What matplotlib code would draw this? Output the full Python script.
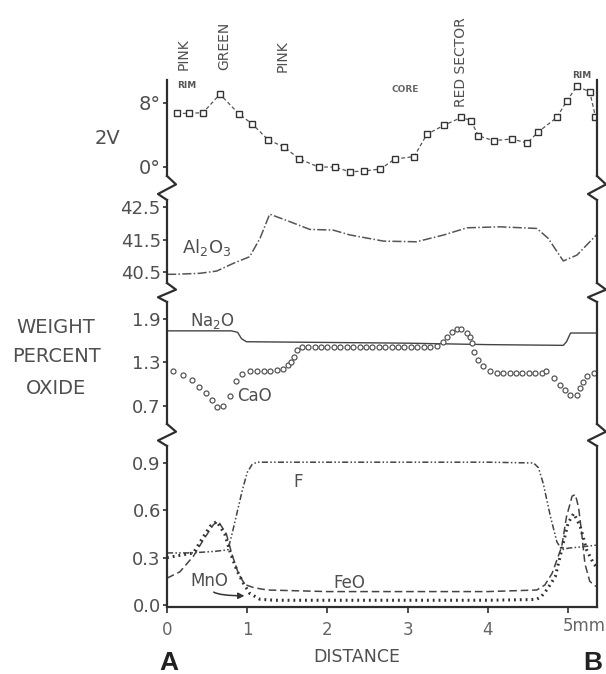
import matplotlib
matplotlib.use("Agg")
import matplotlib.pyplot as plt
from matplotlib.lines import Line2D

# ---------------- data ----------------
# 2V optic angle (degrees) vs distance (mm)
v2_x = [0.12, 0.28, 0.45, 0.66, 0.90, 1.06, 1.26, 1.46, 1.65, 1.89, 2.09, 2.28, 2.46, 2.66,
        2.84, 3.08, 3.24, 3.45, 3.67, 3.79, 3.88, 4.07, 4.30, 4.49, 4.63, 4.86, 4.98, 5.11,
        5.27, 5.34]
v2_deg = [6.7, 6.7, 6.8, 9.1, 6.6, 5.4, 3.4, 2.5, 1.0, 0.0, 0.0, -0.6, -0.5, -0.25,
          1.0, 1.3, 4.1, 5.2, 6.2, 5.8, 3.9, 3.3, 3.5, 3.0, 4.4, 6.2, 8.2, 10.1,
          9.4, 6.3]

# Al2O3 weight percent
al_x = [0.0, 0.10, 0.41, 0.62, 0.83, 1.03, 1.16, 1.28, 1.53, 1.78, 2.07, 2.28, 2.70, 3.11,
        3.45, 3.74, 4.15, 4.61, 4.75, 4.94, 5.11, 5.36]
al_wt = [40.43, 40.43, 40.46, 40.53, 40.77, 40.97, 41.54, 42.28, 42.05, 41.81, 41.79, 41.64,
         41.45, 41.43, 41.64, 41.86, 41.89, 41.84, 41.54, 40.84, 41.02, 41.66]

# Na2O weight percent
na_x = [0.0, 0.80, 0.88, 0.93, 0.99, 2.0, 3.0, 4.0, 4.94, 4.98, 5.03, 5.36]
na_wt = [1.73, 1.73, 1.71, 1.62, 1.58, 1.57, 1.56, 1.54, 1.53, 1.58, 1.70, 1.70]

# CaO weight percent (individual analyses)
ca_x = [0.08, 0.20, 0.31, 0.40, 0.49, 0.56, 0.62, 0.70, 0.78, 0.86, 0.93, 1.03, 1.12, 1.21,
        1.28, 1.37, 1.45, 1.51, 1.55, 1.58, 1.62,
        1.68, 1.76, 1.84, 1.92, 2.00, 2.08, 2.16, 2.24, 2.32, 2.40, 2.48, 2.56, 2.64, 2.72,
        2.80, 2.88, 2.96, 3.04, 3.12, 3.20, 3.28,
        3.36, 3.44, 3.49, 3.55, 3.61, 3.67, 3.74, 3.78, 3.80, 3.83, 3.88, 3.94, 4.03, 4.11,
        4.19, 4.27, 4.35, 4.43, 4.51, 4.59, 4.67,
        4.73, 4.82, 4.90, 4.96, 5.02, 5.11, 5.15, 5.19, 5.24, 5.32]
ca_wt = [1.18, 1.12, 1.05, 0.95, 0.87, 0.78, 0.68, 0.69, 0.83, 1.04, 1.14, 1.18, 1.18, 1.18,
         1.18, 1.19, 1.21, 1.26, 1.30, 1.37, 1.47,
         1.51, 1.51, 1.51, 1.51, 1.51, 1.51, 1.51, 1.51, 1.51, 1.51, 1.51, 1.51, 1.51, 1.51,
         1.51, 1.51, 1.51, 1.51, 1.51, 1.51, 1.51,
         1.52, 1.57, 1.65, 1.72, 1.76, 1.76, 1.70, 1.65, 1.56, 1.44, 1.33, 1.24, 1.17, 1.15,
         1.15, 1.15, 1.15, 1.15, 1.15, 1.15, 1.15,
         1.17, 1.08, 0.98, 0.91, 0.85, 0.85, 0.94, 1.03, 1.11, 1.15]

# F weight percent
f_x = [0.0, 0.30, 0.60, 0.76, 0.82, 0.88, 0.94, 1.00, 1.06, 1.12, 2.0, 3.0, 4.0, 4.57,
       4.63, 4.69, 4.78, 4.86, 4.92, 5.00, 5.20, 5.36]
f_wt = [0.33, 0.33, 0.34, 0.35, 0.47, 0.60, 0.73, 0.84, 0.89, 0.905, 0.905, 0.905, 0.905,
        0.90, 0.87, 0.77, 0.56, 0.40, 0.35, 0.36, 0.37, 0.38]

# MnO weight percent
mn_x = [0.0, 0.33, 0.45, 0.54, 0.62, 0.72, 0.79, 0.87, 0.95, 1.03, 1.16, 1.35, 2.0, 3.0,
        4.0, 4.60, 4.66, 4.74, 4.84, 4.92, 5.00, 5.07, 5.15, 5.23, 5.32, 5.36]
mn_wt = [0.30, 0.33, 0.43, 0.50, 0.53, 0.45, 0.33, 0.22, 0.14, 0.074, 0.036, 0.03, 0.03, 0.03,
         0.03, 0.035, 0.05, 0.10, 0.18, 0.35, 0.52, 0.58, 0.50, 0.35, 0.26, 0.24]

# FeO weight percent
fe_x = [0.0, 0.16, 0.33, 0.45, 0.58, 0.64, 0.74, 0.81, 0.89, 0.97, 1.08, 1.25, 2.0, 3.0,
        4.0, 4.61, 4.71, 4.80, 4.86, 4.92, 4.98, 5.05, 5.09, 5.13, 5.17, 5.21, 5.27, 5.34, 5.36]
fe_wt = [0.17, 0.21, 0.31, 0.41, 0.51, 0.53, 0.45, 0.32, 0.20, 0.13, 0.11, 0.095, 0.085, 0.085,
         0.085, 0.095, 0.127, 0.20, 0.285, 0.37, 0.56, 0.69, 0.70, 0.62, 0.45, 0.26, 0.15, 0.12, 0.12]

v2_ticks = [0, 8]
v2_ticklabels = ["0°", "8°"]
al_ticks = [40.5, 41.5, 42.5]
al_ticklabels = ["40.5", "41.5", "42.5"]
mid_ticks = [0.7, 1.3, 1.9]
mid_ticklabels = ["0.7", "1.3", "1.9"]
low_ticks = [0.0, 0.3, 0.6, 0.9]
low_ticklabels = ["0.0", "0.3", "0.6", "0.9"]
x_ticks = [0, 1, 2, 3, 4, 5]
x_ticklabels = ["0", "1", "2", "3", "4", ""]

# ---------------- layout ----------------
W, H = 606, 674
fig = plt.figure(figsize=(W / 100, H / 100), dpi=100)
plt.rcParams['font.family'] = ['DejaVu Sans']

INK = "#2e2e2e"
TXT = "#4f4f4f"
LX, RX = 167, 597
XMAX = 5.36


def fx(px):
    return px / W


def fy(py):
    return 1 - py / H


def make_ax(top, bottom, ylim):
    ax = fig.add_axes([fx(LX), fy(bottom), fx(RX) - fx(LX), (bottom - top) / H])
    ax.set_xlim(0, XMAX)
    ax.set_ylim(*ylim)
    ax.patch.set_alpha(0)
    for s in ("top", "bottom"):
        ax.spines[s].set_visible(False)
    for s in ("left", "right"):
        ax.spines[s].set_linewidth(1.6)
        ax.spines[s].set_color(INK)
    ax.set_xticks([])
    ax.tick_params(axis="y", direction="out", length=3, width=1.2, color=INK,
                   labelsize=13, labelcolor=TXT, pad=1.5)
    return ax


P = [(80, 176), (200, 283), (302, 424), (446, 607)]
ax1 = make_ax(*P[0], (-1.125, 10.875))
ax2 = make_ax(*P[1], (40.162, 42.715))
ax3 = make_ax(*P[2], (0.445, 2.128))
ax4 = make_ax(*P[3], (-0.0127, 1.0076))

# breaks (zigzags) between panels
for (t1, b1), (t2, b2) in zip(P[:-1], P[1:]):
    g = t2 - b1
    for x0 in (LX, RX):
        xs = [x0, x0 + 9, x0 - 9, x0]
        ys = [b1, b1 + 0.35 * g, b1 + 0.75 * g, t2]
        fig.add_artist(Line2D([fx(v) for v in xs], [fy(v) for v in ys],
                              color=INK, lw=1.6, transform=fig.transFigure))

# ---- panel 1: 2V
ax1.plot(v2_x, v2_deg, color="#555555", lw=0.9, ls=(0, (3, 2)),
         marker="s", ms=4.5, mfc="white", mec="#333333", mew=1.0)
ax1.set_yticks(v2_ticks)
ax1.set_yticklabels(v2_ticklabels, fontsize=14)

# ---- panel 2: Al2O3
ax2.plot(al_x, al_wt, color="#555555", lw=1.1, ls=(0, (6, 1.5, 1, 1.5)))
ax2.set_yticks(al_ticks)
ax2.set_yticklabels(al_ticklabels)
ax2.text(0.19, 41.26, r"Al$_2$O$_3$", fontsize=13, color=TXT, va="center", ha="left")

# ---- panel 3: Na2O, CaO
ax3.plot(na_x, na_wt, color="#444444", lw=1.0)
ax3.plot(ca_x, ca_wt, ls="none", marker="o", ms=3.6, mfc="white", mec="#555555", mew=0.9)
ax3.set_yticks(mid_ticks)
ax3.set_yticklabels(mid_ticklabels)
ax3.text(0.29, 1.87, r"Na$_2$O", fontsize=12, color=TXT, va="center", ha="left")
ax3.text(0.87, 0.83, "CaO", fontsize=12, color=TXT, va="center", ha="left")

# ---- panel 4: F, MnO, FeO
ax4.plot(f_x, f_wt, color="#444444", lw=1.1, ls=(0, (4, 1.5, 1, 1.5, 1, 1.5)))
ax4.plot(fe_x, fe_wt, color="#444444", lw=1.1, ls=(0, (5, 2.5)))
ax4.plot(mn_x, mn_wt, color="#333333", lw=2.2, ls=(0, (0.6, 1.3)))
ax4.set_yticks(low_ticks)
ax4.set_yticklabels(low_ticklabels)
ax4.spines["bottom"].set_visible(True)
ax4.spines["bottom"].set_linewidth(1.6)
ax4.spines["bottom"].set_color(INK)
ax4.set_xticks(x_ticks)
ax4.set_xticklabels(x_ticklabels)
ax4.tick_params(axis="x", direction="out", length=4, width=1.2, color=INK,
                labelsize=12, labelcolor="#666666", pad=6)
ax4.text(1.63, 0.78, "F", fontsize=12, color=TXT, ha="center", va="center")
ax4.text(2.27, 0.14, "FeO", fontsize=12, color=TXT, ha="center", va="center")
ax4.text(0.53, 0.15, "MnO", fontsize=12, color=TXT, ha="center", va="center")
ax4.annotate("", xy=(1.0, 0.058), xytext=(0.56, 0.095),
             arrowprops=dict(arrowstyle="-|>", color="#333333", lw=1.1,
                             mutation_scale=9,
                             connectionstyle="angle3,angleA=-80,angleB=0"))
ax4.text(4.93, -0.135, "5mm", fontsize=12, color="#666666", ha="left", va="center")

# ---------------- annotations around the figure ----------------
for lab, xp, yp in [("PINK", 184, 70), ("GREEN", 224, 70), ("PINK", 283, 72),
                    ("RED SECTOR", 461, 107)]:
    fig.text(fx(xp), fy(yp), lab, rotation=90, ha="center", va="bottom",
             fontsize=10, color=TXT)
fig.text(fx(187), fy(86), "RIM", fontsize=6.5, fontweight="bold", color="#555555",
         ha="center", va="center")
fig.text(fx(405), fy(90), "CORE", fontsize=6.5, fontweight="bold", color="#666666",
         ha="center", va="center")
fig.text(fx(582), fy(76), "RIM", fontsize=6.5, fontweight="bold", color="#555555",
         ha="center", va="center")

fig.text(fx(108), fy(138), "2V", fontsize=14, color=TXT, ha="center", va="center")
for lab, yp in [("WEIGHT", 327), ("PERCENT", 357), ("OXIDE", 388)]:
    fig.text(fx(56), fy(yp), lab, fontsize=14, color=TXT, ha="center", va="center")

fig.text(fx(357), fy(657), "DISTANCE", fontsize=12.5, color=TXT, ha="center", va="center")
fig.text(fx(169), fy(663), "A", fontsize=19, fontweight="bold", color="#222222",
         family="Liberation Sans", ha="center", va="center")
fig.text(fx(593), fy(663), "B", fontsize=19, fontweight="bold", color="#222222",
         family="Liberation Sans", ha="center", va="center")

fig.savefig("out.png", dpi=100, facecolor="white")
